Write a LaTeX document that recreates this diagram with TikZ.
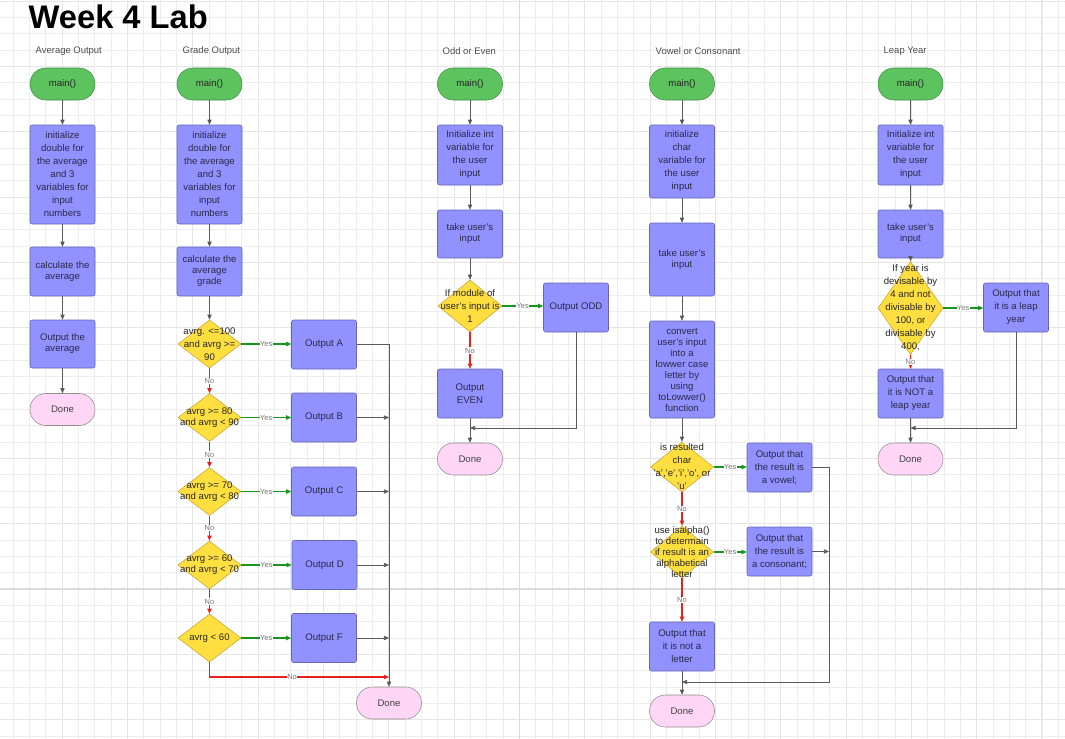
\documentclass[tikz,border=0pt]{standalone}
\usepackage{fontspec}
\setmainfont{Liberation Sans}
\usetikzlibrary{shapes.geometric,arrows.meta}

\definecolor{startfill}{HTML}{5CC35E}
\definecolor{startdraw}{HTML}{3E8E40}
\definecolor{boxfill}{HTML}{9191FF}
\definecolor{boxdraw}{HTML}{6666B8}
\definecolor{decfill}{HTML}{FFDF3F}
\definecolor{decdraw}{HTML}{C4A42C}
\definecolor{donefill}{HTML}{FFD6F6}
\definecolor{donedraw}{HTML}{8C8C8C}
\definecolor{boxtext}{HTML}{2A2A48}
\definecolor{flowgray}{HTML}{5A5A5A}
\definecolor{yesgreen}{HTML}{16961C}
\definecolor{nored}{HTML}{E82020}

\tikzset{
  gridminor/.style={draw={black!7}, line width=0.55pt},
  gridmid/.style={draw={black!10}, line width=0.65pt},
  gridmajor/.style={draw={black!14}, line width=1.2pt},
  startnode/.style={rectangle, rounded corners=11.9pt, draw=startdraw, fill=startfill,
    minimum width=48.75pt, minimum height=24pt, inner sep=0pt,
    font=\fontsize{7.2}{9}\selectfont, text=black!85},
  donenode/.style={rectangle, rounded corners=11.9pt, draw=donedraw, fill=donefill,
    minimum width=48.75pt, minimum height=24pt, inner sep=0pt,
    font=\fontsize{7.2}{9}\selectfont, text=black!75},
  procbox/.style={rectangle, rounded corners=1.5pt, draw=boxdraw, fill=boxfill,
    minimum width=48.75pt, inner sep=0pt, align=center, text=boxtext,
    font=\fontsize{7.2}{9.75}\selectfont},
  tight/.style={font=\fontsize{7.2}{8.25}\selectfont},
  decnode/.style={diamond, draw=decdraw, fill=decfill, inner sep=0pt,
    minimum width=47.25pt, minimum height=36pt},
  dtext/.style={align=center, text=black!85, font=\fontsize{7.2}{9.75}\selectfont},
  dtight/.style={align=center, text=black!85, font=\fontsize{7.2}{8.25}\selectfont},
  hdr/.style={anchor=west, text=black!70, font=\fontsize{7.1}{9}\selectfont},
  lbl/.style={fill=white, inner sep=0.4pt, text=black!55, font=\fontsize{5.6}{6}\selectfont},
  flowline/.style={draw=flowgray, line width=0.6pt, -{Triangle[length=3.8pt,width=3.2pt]}},
  yesline/.style={draw=yesgreen, line width=0.8pt, -{Triangle[length=3.8pt,width=3.2pt]}},
  noline/.style={draw=nored, line width=0.8pt, -{Triangle[length=3.8pt,width=3.2pt]}},
}

\begin{document}
\begin{tikzpicture}[x=0.75pt,y=-0.75pt]
  \useasboundingbox (0,0) rectangle (1065,739);
  \fill[white] (0,0) rectangle (1065,739);
    % grid paper
  \foreach \i in {0,...,64}
    \draw[gridminor] ({13.1+16.33*\i},0) -- ({13.1+16.33*\i},739);
  \foreach \j in {0,...,45}
    \draw[gridminor] (0,{1.1+16.33*\j}) -- (1065,{1.1+16.33*\j});
  \foreach \k in {0,...,15}
    \draw[gridmid] ({62.1+65.32*\k},0) -- ({62.1+65.32*\k},739);
  \foreach \k in {0,...,11}
    \draw[gridmid] (0,{1.1+65.32*\k}) -- (1065,{1.1+65.32*\k});
  \draw[gridmajor] (519.3,0) -- (519.3,739);
  \draw[gridmajor] (0,589) -- (1065,589);

  \node[anchor=base west, font=\fontsize{24.5}{26}\selectfont\bfseries] (title)
    at (24,28.5) {Week 4 Lab};
  \node[hdr] (h_avg) at (31,51) {Average Output};
  \node[hdr] (h_grade) at (178,51) {Grade Output};
  \node[hdr] (h_odd) at (438,51) {Odd or Even};
  \node[hdr] (h_vow) at (651,51) {Vowel or Consonant};
  \node[hdr] (h_leap) at (879,51) {Leap Year};

    % Average Output
  \node[startnode] (a_main) at (62.5,84) {main()};
  \node[procbox, minimum height=74.25pt] (a_init) at (62.5,174.5)
    {initialize\\double for\\the average\\and 3\\variables for\\input\\numbers};
  \node[procbox, tight, minimum height=36.75pt] (a_calc) at (62.5,271.5)
    {calculate the\\average};
  \node[procbox, tight, minimum height=36pt] (a_out) at (62.5,344)
    {Output the\\average};
  \node[donenode] (a_done) at (62.5,409.5) {Done};
  \draw[flowline] (a_main) -- (a_init);
  \draw[flowline] (a_init) -- (a_calc);
  \draw[flowline] (a_calc) -- (a_out);
  \draw[flowline] (a_out) -- (a_done);

    % Grade Output
  \node[startnode] (g_main) at (209.5,84) {main()};
  \node[procbox, minimum height=74.25pt] (g_init) at (209.5,174.5)
    {initialize\\double for\\the average\\and 3\\variables for\\input\\numbers};
  \node[procbox, tight, minimum height=36.75pt] (g_calc) at (209.5,271.5)
    {calculate the\\average\\grade};
  \node[decnode, label={[dtext]center:avrg. <=100\\and avrg >=\\90}] (g_d1) at (209.5,344) {};
  \node[decnode, label={[dtight]center:avrg >= 80\\and avrg < 90}] (g_d2) at (209.5,417.5) {};
  \node[decnode, label={[dtight]center:avrg >= 70\\and avrg < 80}] (g_d3) at (209.5,491.5) {};
  \node[decnode, label={[dtight]center:avrg >= 60\\and avrg < 70}] (g_d4) at (209.5,565) {};
  \node[decnode, label={[dtext]center:avrg < 60}] (g_d5) at (209.5,638) {};
  \node[procbox, minimum height=36.75pt] (g_oA) at (324,344.5) {Output A};
  \node[procbox, minimum height=36.75pt] (g_oB) at (324,417.5) {Output B};
  \node[procbox, minimum height=36.75pt] (g_oC) at (324,491.5) {Output C};
  \node[procbox, minimum height=36.75pt] (g_oD) at (324.5,565) {Output D};
  \node[procbox, minimum height=36.75pt] (g_oF) at (324,638) {Output F};
  \node[donenode] (g_done) at (389,703) {Done};
  \coordinate (g_join) at (389,677);
  \draw[flowline] (g_main) -- (g_init);
  \draw[flowline] (g_init) -- (g_calc);
  \draw[flowline] (g_calc) -- (g_d1);
  \draw[noline] (g_d1) -- node[lbl] {No} (g_d2);
  \draw[noline] (g_d2) -- node[lbl] {No} (g_d3);
  \draw[noline] (g_d3) -- node[lbl] {No} (g_d4);
  \draw[noline] (g_d4) -- node[lbl] {No} (g_d5);
  \draw[yesline] (g_d1.east) -- node[lbl] {Yes} (g_d1.east -| g_oA.west);
  \draw[yesline] (g_d2.east) -- node[lbl] {Yes} (g_d2.east -| g_oB.west);
  \draw[yesline] (g_d3.east) -- node[lbl] {Yes} (g_d3.east -| g_oC.west);
  \draw[yesline] (g_d4.east) -- node[lbl] {Yes} (g_d4.east -| g_oD.west);
  \draw[yesline] (g_d5.east) -- node[lbl] {Yes} (g_d5.east -| g_oF.west);
  \draw[flowline] (g_oA.east) -| (g_done.north);
  \draw[flowline] (g_oB.east) -- (g_oB.east -| g_join);
  \draw[flowline] (g_oC.east) -- (g_oC.east -| g_join);
  \draw[flowline] (g_oD.east) -- (g_oD.east -| g_join);
  \draw[flowline] (g_oF.east) -- (g_oF.east -| g_join);
  \draw[noline] (g_d5.south) |- node[lbl, pos=0.73] {No} (g_join);

    % Odd or Even
  \node[startnode] (o_main) at (470,84) {main()};
  \node[procbox, minimum height=45pt] (o_init) at (470,155)
    {Initialize int\\variable for\\the user\\input};
  \node[procbox, tight, minimum height=36pt] (o_take) at (470,234)
    {take user's\\input};
  \node[decnode, minimum width=48pt, minimum height=39pt,
    label={[dtext]center:If module of\\user's input is\\1}] (o_dec) at (470,306) {};
  \node[procbox, minimum height=36.75pt] (o_odd) at (576,307.5) {Output ODD};
  \node[procbox, minimum height=36.75pt] (o_even) at (470,393.5) {Output\\EVEN};
  \node[donenode] (o_done) at (470,459) {Done};
  \coordinate (o_join) at (470,428);
  \draw[flowline] (o_main) -- (o_init);
  \draw[flowline] (o_init) -- (o_take);
  \draw[flowline] (o_take) -- (o_dec);
  \draw[yesline] (o_dec.east) -- node[lbl] {Yes} (o_dec.east -| o_odd.west);
  \draw[noline] (o_dec) -- node[lbl] {No} (o_even);
  \draw[flowline] (o_odd.south) |- (o_join);
  \draw[flowline] (o_even) -- (o_done);

    % Vowel or Consonant
  \node[startnode] (v_main) at (682,84) {main()};
  \node[procbox, minimum height=54.75pt] (v_init) at (682,161.5)
    {initialize\\char\\variable for\\the user\\input};
  \node[procbox, tight, minimum height=54.75pt] (v_take) at (682,259.5)
    {take user's\\input};
  \node[procbox, tight, minimum height=72.75pt] (v_conv) at (682,369.5)
    {convert\\user's input\\into a\\lowwer case\\letter by\\using\\toLowwer()\\function};
  \node[decnode, minimum height=37.5pt,
    label={[dtext]center:is resulted\\char\\'a','e','i','o', or\\'u'}] (v_d1) at (682,467) {};
  \node[procbox, minimum height=36.75pt] (v_vow) at (779.5,467.5)
    {Output that\\the result is\\a vowel;};
  \node[decnode, minimum height=39pt,
    label={[dtight]center:use isalpha()\\to determain\\if result is an\\alphabetical\\letter}] (v_d2) at (682,552) {};
  \node[procbox, minimum height=36.75pt] (v_cons) at (779.5,551.5)
    {Output that\\the result is\\a consonant;};
  \node[procbox, minimum height=36.75pt] (v_not) at (682,646.5)
    {Output that\\it is not a\\letter};
  \node[donenode] (v_done) at (682,711) {Done};
  \coordinate (v_join) at (682,682);
  \coordinate (v_rail) at (829,682);
  \draw[flowline] (v_main) -- (v_init);
  \draw[flowline] (v_init) -- (v_take);
  \draw[flowline] (v_take) -- (v_conv);
  \draw[flowline] (v_conv) -- (v_d1);
  \draw[yesline] (v_d1.east) -- node[lbl] {Yes} (v_d1.east -| v_vow.west);
  \draw[noline] (v_d1) -- node[lbl] {No} (v_d2);
  \draw[yesline] (v_d2.east) -- node[lbl] {Yes} (v_d2.east -| v_cons.west);
  \draw[noline] (v_d2) -- node[lbl] {No} (v_not);
  \draw[flowline] (v_vow.east) -| (v_rail) -- (v_join);
  \draw[flowline] (v_cons.east) -- (v_cons.east -| v_rail);
  \draw[flowline] (v_not) -- (v_done);

    % Leap Year
  \node[startnode] (l_main) at (910.5,84) {main()};
  \node[procbox, minimum height=45pt] (l_init) at (910.5,155)
    {Initialize int\\variable for\\the user\\input};
  \node[procbox, tight, minimum height=36pt] (l_take) at (910.5,234)
    {take user's\\input};
  \node[procbox, minimum height=36.75pt] (l_leap) at (1016,307.5)
    {Output that\\it is a leap\\year};
  \node[decnode, minimum width=48.75pt, minimum height=69.75pt,
    label={[dtext]center:If year is\\devisable by\\4 and not\\divisable by\\100, or\\divisable by\\400,}]
    (l_dec) at (910.5,308) {};
  \node[procbox, minimum height=36.75pt] (l_not) at (910.5,393.5)
    {Output that\\it is NOT a\\leap year};
  \node[donenode] (l_done) at (910.5,459) {Done};
  \coordinate (l_join) at (910.5,428);
  \draw[flowline] (l_main) -- (l_init);
  \draw[flowline] (l_init) -- (l_take);
  \draw[flowline] (l_take) -- (l_dec);
  \draw[yesline] (l_dec.east) -- node[lbl] {Yes} (l_dec.east -| l_leap.west);
  \draw[noline] (l_dec) -- node[lbl] {No} (l_not);
  \draw[flowline] (l_leap.south) |- (l_join);
  \draw[flowline] (l_not) -- (l_done);
\end{tikzpicture}
\end{document}
